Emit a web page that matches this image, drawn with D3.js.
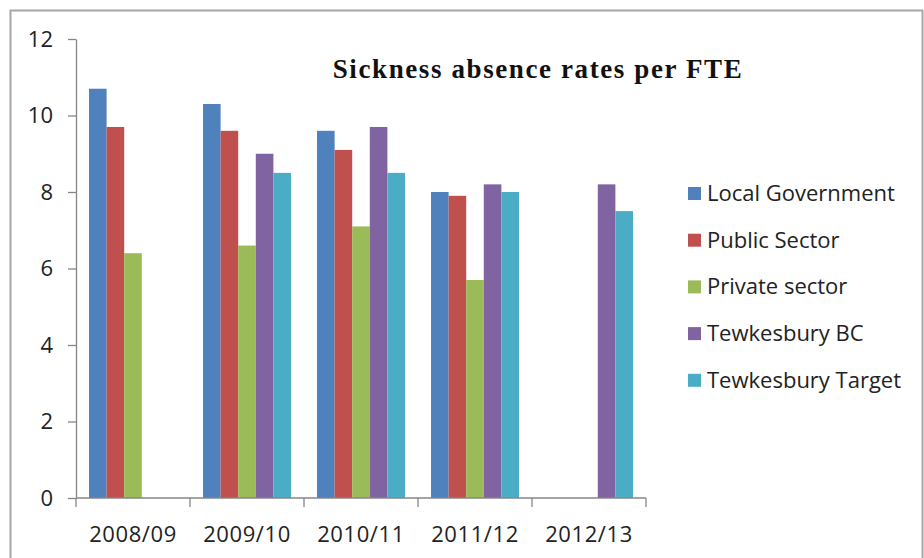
<!DOCTYPE html>
<html>
<head>
<meta charset="utf-8">
<script src="https://cdn.jsdelivr.net/npm/d3@7"></script>
<style>
  html, body { margin: 0; padding: 0; background: #fff; }
  svg { display: block; }
</style>
</head>
<body>
<svg id="chart" width="924" height="558"></svg>
<script>
// Financial years on the category axis
const years = ["2008/09", "2009/10", "2010/11", "2011/12", "2012/13"];

// Series names (legend order) and their colours
const seriesNames = ["Local Government", "Public Sector", "Private sector", "Tewkesbury BC", "Tewkesbury Target"];
const seriesColors = ["#4F81BD", "#C0504D", "#9BBB59", "#8064A2", "#4BACC6"];

// Days lost per FTE, one array per series (null = no figure for that year)
const localGovernment  = [10.7, 10.3, 9.6, 8.0, null];
const publicSector     = [9.7, 9.6, 9.1, 7.9, null];
const privateSector    = [6.4, 6.6, 7.1, 5.7, null];
const tewkesburyBC     = [null, 9.0, 9.7, 8.2, 8.2];
const tewkesburyTarget = [null, 8.5, 8.5, 8.0, 7.5];

const yTicks = [0, 2, 4, 6, 8, 10, 12];

const seriesValues = [localGovernment, publicSector, privateSector, tewkesburyBC, tewkesburyTarget];

const svg = d3.select("#chart");
const W = 924, H = 558;

// Outer frame of the chart area
svg.append("rect")
  .attr("x", 10.5).attr("y", 10.5)
  .attr("width", W - 12).attr("height", H)
  .attr("fill", "#fff")
  .attr("stroke", "#a6a6a6").attr("stroke-width", 2);

const plot = { left: 76, right: 646, top: 39, bottom: 498 };

const x = d3.scaleBand().domain(years).range([plot.left, plot.right]).paddingInner(0).paddingOuter(0);
const xs = d3.scaleBand().domain(d3.range(seriesNames.length))
  .range([0, x.bandwidth()]).paddingInner(0).paddingOuter(0.74);
const y = d3.scaleLinear().domain([0, 12]).range([plot.bottom, plot.top]);

const axisColor = "#868686";
const fontSans = "'Open Sans', Lato, sans-serif";

// Bars
const rows = [];
seriesValues.forEach((vals, si) => {
  vals.forEach((v, yi) => {
    if (v != null) rows.push({ s: si, year: years[yi], v });
  });
});

svg.append("g").selectAll("rect")
  .data(rows)
  .join("rect")
  .attr("x", d => x(d.year) + xs(d.s))
  .attr("y", d => y(d.v))
  .attr("width", xs.bandwidth())
  .attr("height", d => y(0) - y(d.v))
  .attr("fill", d => seriesColors[d.s]);

// Y axis
const yAxis = svg.append("g")
  .attr("transform", `translate(${plot.left},0)`)
  .call(d3.axisLeft(y).tickValues(yTicks).tickSize(8).tickPadding(15).tickSizeOuter(0));
yAxis.select(".domain").attr("stroke", axisColor).attr("stroke-width", 1.3);
yAxis.selectAll(".tick line").attr("stroke", axisColor).attr("stroke-width", 1.3);
yAxis.selectAll(".tick text")
  .attr("fill", "#222")
  .style("font-family", fontSans)
  .style("font-size", "22px");

// X axis: ticks sit on the band boundaries
const xAxisG = svg.append("g").attr("transform", `translate(0,${plot.bottom})`);
xAxisG.append("line")
  .attr("x1", plot.left).attr("x2", plot.right)
  .attr("stroke", axisColor).attr("stroke-width", 1.3);
const boundaries = years.map(d => x(d)).concat([plot.right]);
xAxisG.selectAll("line.tick")
  .data(boundaries)
  .join("line")
  .attr("class", "tick")
  .attr("x1", d => d).attr("x2", d => d)
  .attr("y1", 0).attr("y2", 9)
  .attr("stroke", axisColor).attr("stroke-width", 1.3);
xAxisG.selectAll("text")
  .data(years)
  .join("text")
  .attr("x", d => x(d) + x.bandwidth() / 2)
  .attr("y", 44)
  .attr("text-anchor", "middle")
  .attr("fill", "#222")
  .style("font-family", fontSans)
  .style("font-size", "22px")
  .style("letter-spacing", "0.6px")
  .text(d => d);

// Title
svg.append("text")
  .attr("x", 538).attr("y", 78)
  .attr("text-anchor", "middle")
  .attr("fill", "#111")
  .style("font-family", "'Liberation Serif', 'Times New Roman', serif")
  .style("font-weight", "bold")
  .style("font-size", "27px")
  .style("letter-spacing", "1.6px")
  .text("Sickness absence rates per FTE");

// Legend
const legend = svg.append("g");
const legendItems = legend.selectAll("g")
  .data(seriesNames)
  .join("g")
  .attr("transform", (d, i) => `translate(688,${193 + i * 46.7})`);
legendItems.append("rect")
  .attr("x", 0).attr("y", -6)
  .attr("width", 13).attr("height", 13)
  .attr("fill", (d, i) => seriesColors[i]);
legendItems.append("text")
  .attr("x", 19).attr("y", 0)
  .attr("dy", "0.36em")
  .attr("fill", "#222")
  .style("font-family", fontSans)
  .style("font-size", "22px")
  .text(d => d);
</script>
</body>
</html>
